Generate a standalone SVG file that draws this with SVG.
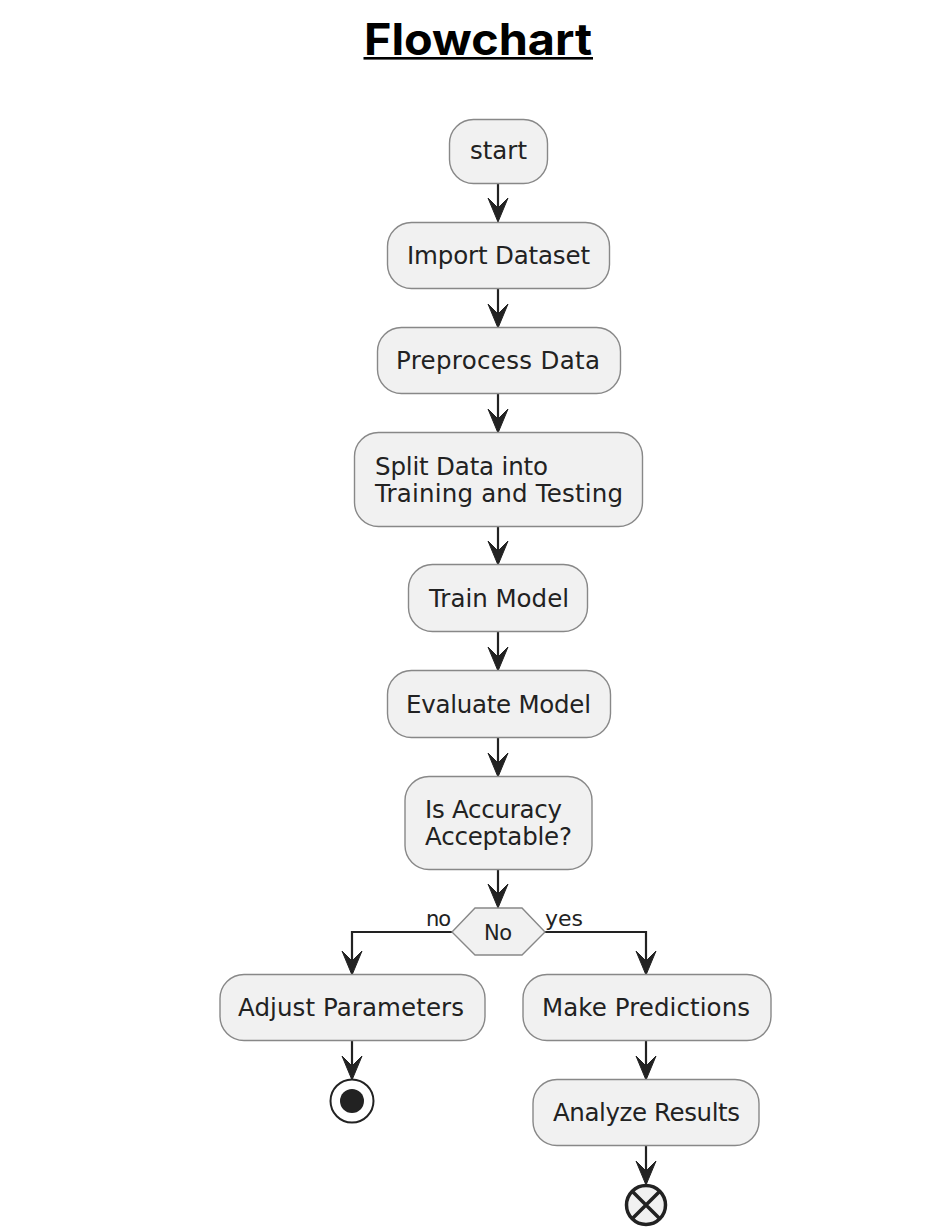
<svg xmlns="http://www.w3.org/2000/svg" width="936" height="1228" viewBox="0 0 936 1228">
<style>
.n{fill:#f1f1f1;stroke:#888;stroke-width:1.4}
.t{font-family:"DejaVu Sans",sans-serif;font-size:24.500px;fill:#222}
.s{font-family:"DejaVu Sans",sans-serif;font-size:21px;fill:#222}
.c{fill:none;stroke:#222;stroke-width:2.200}
.h{fill:#222;stroke:#222;stroke-width:1;stroke-linejoin:round}
</style>
<defs>
<path id="ah" class="h" d="M0 0L-10 -24L0 -14L10 -24Z"/>
</defs>
<rect width="936" height="1228" fill="#fff"/>
<g id="title">
<text x="364" y="55" font-family="Inter,'Liberation Sans',sans-serif" font-weight="700" font-size="44" textLength="228" lengthAdjust="spacingAndGlyphs" fill="#000">Flowchart</text>
<rect x="363.500" y="57" width="229.500" height="2.600" fill="#000"/>
</g>
<g id="connectors">
<path class="c" d="M498 183V215M498 289V320M498 393V425M498 526V557M498 632V663M498 737V769M498 869V900M452 932H352V968M545 932H646V968M352 1040V1073M646 1040V1072M646 1145V1178"/>
<use href="#ah" x="498" y="222"/><use href="#ah" x="498" y="328"/><use href="#ah" x="498" y="433"/><use href="#ah" x="498" y="565"/><use href="#ah" x="498" y="671"/><use href="#ah" x="498" y="777"/><use href="#ah" x="498" y="908"/><use href="#ah" x="352" y="975"/><use href="#ah" x="646" y="975"/><use href="#ah" x="352" y="1080"/><use href="#ah" x="646" y="1080"/><use href="#ah" x="646" y="1185"/>
</g>
<g id="start"><rect class="n" x="449.500" y="119.500" width="98" height="64" rx="24"/><text class="t" x="470" y="159" textLength="57">start</text></g>
<g id="import"><rect class="n" x="387.500" y="222.500" width="222" height="66" rx="24"/><text class="t" x="407" y="264" textLength="183">Import Dataset</text></g>
<g id="preprocess"><rect class="n" x="377.500" y="327.500" width="243" height="66" rx="24"/><text class="t" x="396" y="369" textLength="204">Preprocess Data</text></g>
<g id="split"><rect class="n" x="354.500" y="432.500" width="288" height="94" rx="24"/><text class="t" x="375" y="474.500" textLength="173">Split Data into</text><text class="t" x="375" y="501.500" textLength="248">Training and Testing</text></g>
<g id="train"><rect class="n" x="408.500" y="564.500" width="179" height="67" rx="24"/><text class="t" x="429" y="606.500" textLength="140">Train Model</text></g>
<g id="evaluate"><rect class="n" x="387.500" y="670.500" width="223" height="67" rx="24"/><text class="t" x="406" y="712.500" textLength="185">Evaluate Model</text></g>
<g id="accuracy"><rect class="n" x="405" y="776.500" width="187" height="93" rx="24"/><text class="t" x="425" y="817.500" textLength="137">Is Accuracy</text><text class="t" x="425" y="845" textLength="147">Acceptable?</text></g>
<g id="decision"><polygon class="n" points="475,908 522,908 545,932 522,955 475,955 452,932"/><text class="s" x="484" y="940" textLength="28">No</text></g>
<text class="s" x="426" y="926" textLength="25">no</text>
<text class="s" x="545" y="926" textLength="38" lengthAdjust="spacingAndGlyphs">yes</text>
<g id="adjust"><rect class="n" x="220" y="974.500" width="265" height="66" rx="24"/><text class="t" x="238" y="1016" textLength="226">Adjust Parameters</text></g>
<g id="predict"><rect class="n" x="523" y="974.500" width="248" height="66" rx="24"/><text class="t" x="542" y="1016" textLength="208">Make Predictions</text></g>
<g id="analyze"><rect class="n" x="533" y="1079.500" width="226" height="66" rx="24"/><text class="t" x="553" y="1121" textLength="187">Analyze Results</text></g>
<g id="stop"><circle cx="352" cy="1101" r="21.500" fill="#fff" stroke="#222" stroke-width="2"/><circle cx="352" cy="1101" r="12" fill="#222"/></g>
<g id="end"><circle cx="646" cy="1205" r="19.500" fill="#f1f1f1" stroke="#222" stroke-width="3.500"/><path d="M632.200 1191.200L659.800 1218.800M659.800 1191.200L632.200 1218.800" stroke="#222" stroke-width="3.500"/></g>
</svg>
